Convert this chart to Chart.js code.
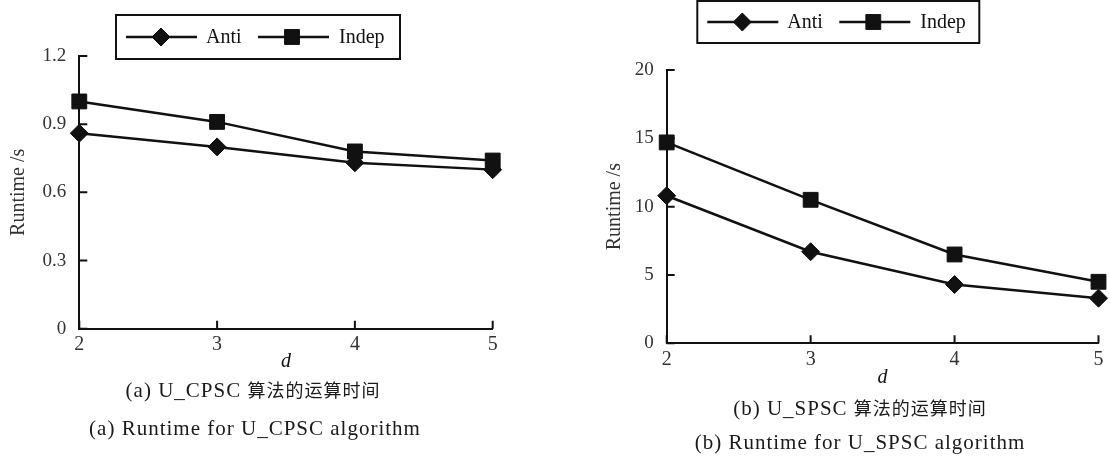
<!DOCTYPE html>
<html>
<head>
<meta charset="utf-8">
<script src="https://cdn.jsdelivr.net/npm/chart.js@4/dist/chart.umd.min.js"></script>
<style>
  body { margin: 0; background: #fff; width: 1110px; height: 461px; position: relative; overflow: hidden; }
  .box { position: absolute; top: 0; width: 555px; height: 400px; }
  .cap { position: absolute; transform: translateX(-50%); white-space: nowrap; color: #1a1a1a;
         font-family: "Liberation Serif", "DejaVu Serif", serif; font-size: 21px; letter-spacing: 1px; line-height: 22px; }
  .cjk { font-family: "Noto Sans CJK SC", sans-serif; font-size: 18px; letter-spacing: 1px; }
</style>
</head>
<body>
<div class="box" style="left:0"><canvas id="chartA" width="555" height="400"></canvas></div>
<div class="box" style="left:555px"><canvas id="chartB" width="555" height="400"></canvas></div>
<div class="cap" style="left:253px;top:378px">(a) U_CPSC <span class="cjk">算法的运算时间</span></div>
<div class="cap" style="left:255px;top:417px">(a) Runtime for U_CPSC algorithm</div>
<div class="cap" style="left:860px;top:396px">(b) U_SPSC <span class="cjk">算法的运算时间</span></div>
<div class="cap" style="left:860px;top:431px">(b) Runtime for U_SPSC algorithm</div>
<script>
// d = number of dimensions
const dValues = ['2', '3', '4', '5'];

// (a) U_CPSC runtime, seconds
const antiA = [0.86, 0.80, 0.73, 0.70];
const indepA = [1.00, 0.91, 0.78, 0.74];
const yTicksA = [0, 0.3, 0.6, 0.9, 1.2];

// (b) U_SPSC runtime, seconds
const antiB = [10.8, 6.7, 4.3, 3.3];
const indepB = [14.7, 10.5, 6.5, 4.5];
const yTicksB = [0, 5, 10, 15, 20];

const ink = '#111';
const grey = '#333';
const serif = '"Liberation Serif", "Times New Roman", serif';

function mark(ctx, style, radius, x, y) {
  ctx.fillStyle = ink;
  ctx.strokeStyle = ink;
  ctx.lineWidth = 1;
  Chart.helpers.drawPoint(ctx, { pointStyle: style, radius: radius, borderWidth: 1, rotation: 0 }, x, y);
}

// inward ticks + boxed legend, like the printed figure
const framePlugin = {
  id: 'frame',
  afterDraw(chart, args, opts) {
    const { ctx, chartArea: a, scales: { x, y } } = chart;
    ctx.save();
    ctx.strokeStyle = ink;
    ctx.lineWidth = 2;
    ctx.beginPath();
    y.ticks.forEach(t => {
      const py = y.getPixelForValue(t.value);
      ctx.moveTo(a.left, py);
      ctx.lineTo(a.left + 8, py);
    });
    x.ticks.forEach((t, i) => {
      const px = x.getPixelForTick(i);
      ctx.moveTo(px, a.bottom);
      ctx.lineTo(px, a.bottom - 8);
    });
    ctx.stroke();

    const b = opts.box;
    ctx.strokeRect(b.x, b.y, b.w, b.h);
    const cy = b.y + b.h / 2;
    const items = [[10, 81, 45, 90], [142, 213, 176, 223]];
    chart.data.datasets.forEach((ds, i) => {
      const [l0, l1, m, tx] = items[i];
      ctx.strokeStyle = ink;
      ctx.lineWidth = 2.5;
      ctx.beginPath();
      ctx.moveTo(b.x + l0, cy);
      ctx.lineTo(b.x + l1, cy);
      ctx.stroke();
      mark(ctx, ds.pointStyle, ds.pointRadius, b.x + m, cy);
      ctx.fillStyle = ink;
      ctx.font = '20px ' + serif;
      ctx.textBaseline = 'middle';
      ctx.fillText(ds.label, b.x + tx, cy + 1);
    });
    ctx.restore();
  }
};

function makeChart(id, anti, indep, yTicks, yMax, g) {
  return new Chart(document.getElementById(id), {
    type: 'line',
    data: {
      labels: dValues,
      datasets: [
        { label: 'Anti', data: anti, pointStyle: 'rectRot', pointRadius: 9 },
        { label: 'Indep', data: indep, pointStyle: 'rect', pointRadius: 10.5 },
      ].map(ds => Object.assign(ds, {
        borderColor: ink, backgroundColor: ink, pointBackgroundColor: ink, pointBorderColor: ink,
        borderWidth: 2.5, pointBorderWidth: 1, pointHoverRadius: ds.pointRadius, tension: 0, clip: false,
      })),
    },
    options: {
      responsive: false,
      animation: false,
      events: [],
      layout: { padding: { left: 0, top: g.top, right: g.right, bottom: 0 } },
      plugins: {
        legend: { display: false },
        tooltip: { enabled: false },
        frame: { box: g.box },
      },
      scales: {
        x: {
          type: 'category',
          offset: false,
          grid: { display: false, drawTicks: false },
          border: { display: true, color: ink, width: 2 },
          ticks: { color: grey, padding: 4, maxRotation: 0, font: { family: serif, size: 20 } },
          title: { display: true, text: 'd', color: ink, padding: { top: 0, bottom: g.dPad },
                   font: { family: serif, size: 20, style: 'italic' } },
          afterFit: s => { s.height = g.xh; },
        },
        y: {
          min: 0,
          max: yMax,
          afterBuildTicks: s => { s.ticks = yTicks.map(v => ({ value: v })); },
          grid: { display: false, drawTicks: false },
          border: { display: true, color: ink, width: 2 },
          ticks: { color: grey, padding: 13, callback: v => String(v), font: { family: serif, size: 19 } },
          title: { display: true, text: 'Runtime /s', color: grey, padding: { top: g.rPad, bottom: 0 },
                   font: { family: serif, size: 20 } },
          afterFit: s => { s.width = g.yw; },
        },
      },
    },
    plugins: [framePlugin],
  });
}

makeChart('chartA', antiA, indepA, yTicksA, 1.2, {
  top: 56, right: 62.3, yw: 79.3, xh: 71.3, dPad: 26, rPad: 7,
  box: { x: 116, y: 15, w: 284, h: 44 },
});
makeChart('chartB', antiB, indepB, yTicksB, 20, {
  top: 70, right: 11.3, yw: 111.7, xh: 56.7, dPad: 10, rPad: 48,
  box: { x: 142.3, y: 1, w: 282, h: 42 },
});
</script>
</body>
</html>
